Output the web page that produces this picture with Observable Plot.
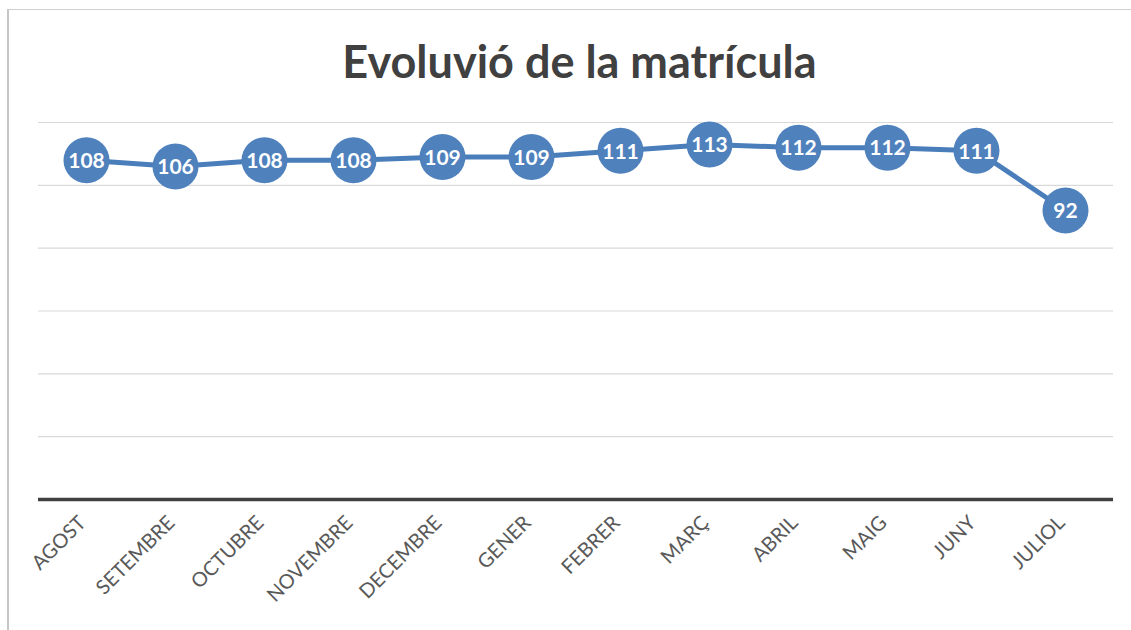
<!DOCTYPE html>
<html>
<head>
<meta charset="utf-8">
<script src="https://cdn.jsdelivr.net/npm/d3@7"></script>
<script src="https://cdn.jsdelivr.net/npm/@observablehq/plot@0.6"></script>
<style>
  html, body { margin: 0; padding: 0; background: #fff; }
  #wrap { position: relative; width: 1131px; height: 630px; overflow: hidden; background: #fff; }
  #frame { position: absolute; left: 7px; top: 9px; right: -5px; bottom: -5px; border-left: 2px solid #c6c6c6; border-top: 1px solid #d0d0d0; pointer-events: none; }
  #title { position: absolute; left: 14px; top: 0; width: 1131px; height: 100px; text-align: center;
           font-family: Lato, "Open Sans", sans-serif; font-weight: 700; font-size: 45px; color: #404040;
           line-height: 45px; padding-top: 39px; box-sizing: border-box; }
  #chart { position: absolute; left: 0; top: 100px; }
</style>
</head>
<body>
<div id="wrap">
  <div id="frame"></div>
  <div id="title">Evoluvió de la matrícula</div>
  <div id="chart"></div>
</div>
<script>
const months = ["AGOST","SETEMBRE","OCTUBRE","NOVEMBRE","DECEMBRE","GENER","FEBRER","MARÇ","ABRIL","MAIG","JUNY","JULIOL"];
const values = [108, 106, 108, 108, 109, 109, 111, 113, 112, 112, 111, 92];
const gridTicks = [20, 40, 60, 80, 100, 120];

const data = months.map((m, i) => ({month: m, value: values[i]}));

const chart = Plot.plot({
  width: 1131,
  height: 530,
  marginLeft: 38,
  marginRight: 18,
  marginTop: 22,
  marginBottom: 131,
  style: {fontFamily: "Lato, 'Open Sans', sans-serif", background: "transparent"},
  x: {type: "point", domain: months, padding: 0.5, label: null},
  y: {domain: [0, 120], label: null, axis: null},
  marks: [
    Plot.ruleY(gridTicks, {stroke: "#d9d9d9", strokeWidth: 1.2}),
    Plot.ruleY([0], {stroke: "#404040", strokeWidth: 3.5}),
    Plot.axisX({tickRotate: -45, tickSize: 0, tickPadding: 20, dx: -4, fontSize: 20, fill: "#595959", label: null}),
    Plot.line(data, {x: "month", y: "value", stroke: "#4a7ebb", strokeWidth: 5, strokeLinejoin: "round"}),
    Plot.dot(data, {x: "month", y: "value", r: 23, fill: "#4f81bd", stroke: "none"}),
    Plot.text(data, {x: "month", y: "value", text: d => String(d.value), fill: "white", fontWeight: "bold", fontSize: 21, dy: 1})
  ]
});
document.getElementById("chart").appendChild(chart);
</script>
</body>
</html>
